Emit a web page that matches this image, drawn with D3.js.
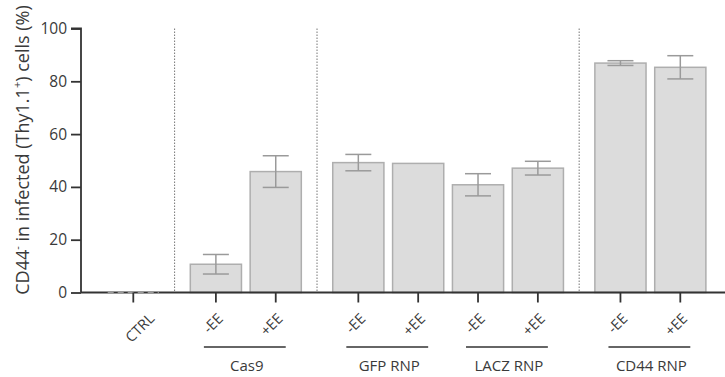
<!DOCTYPE html>
<html><head><meta charset="utf-8">
<script src="https://cdn.jsdelivr.net/npm/d3@7"></script>
<style>
html,body{margin:0;padding:0;background:#fff;}
svg{display:block;font-family:"Open Sans",sans-serif;}
</style></head>
<body><svg id="c" width="725" height="377"></svg>
<script>
const categories = ["CTRL","-EE","+EE","-EE","+EE","-EE","+EE","-EE","+EE"];
const groupOf    = ["", "Cas9","Cas9","GFP RNP","GFP RNP","LACZ RNP","LACZ RNP","CD44 RNP","CD44 RNP"];
const groupNames = ["Cas9","GFP RNP","LACZ RNP","CD44 RNP"];
const means      = [0, 10.7, 45.8, 49.2, 48.9, 40.8, 47.1, 86.9, 85.3];
const errors     = [0, 3.7, 6.0, 3.1, 0, 4.2, 2.6, 0.9, 4.4];
const dividersAfter = [0, 2, 6];
const yTicks = [0, 20, 40, 60, 80, 100];

const svg = d3.select("#c");
const axisX0 = 81, plotRight = 725;
const yTop = 28.5, yBottom = 292.5;
const gapFrac = 0.38;
const textCol = "#3a3a3a";

let pos = [], p = 0;
categories.forEach((c,i)=>{ pos.push(p); p += 1 + (dividersAfter.includes(i) ? gapFrac : 0); });
const x = d3.scaleLinear().domain([0, pos[pos.length-1]]).range([133.3, 680.3]);
const step = x(1) - x(0);
const barW = step * 0.855;
const y = d3.scaleLinear().domain([0,100]).range([yBottom, yTop]);

const data = categories.map((c,i)=>({c, g:groupOf[i], m:means[i], e:errors[i], cx:x(pos[i])}));

dividersAfter.forEach(i=>{
  const xm = (x(pos[i]) + x(pos[i+1]))/2;
  svg.append("line").attr("x1",xm).attr("x2",xm).attr("y1",y(100)).attr("y2",y(0))
    .attr("stroke","#777").attr("stroke-width",1).attr("stroke-dasharray","1.5,1.5");
});

svg.append("g").selectAll("rect").data(data).join("rect")
  .attr("x",d=>d.cx-barW/2).attr("width",barW)
  .attr("y",d=>y(d.m)).attr("height",d=>y(0)-y(d.m))
  .attr("fill","#dcdcdc").attr("stroke","#aeaeae").attr("stroke-width",1.5);

const eb = svg.append("g").attr("stroke","#9a9a9a").attr("stroke-width",1.5).attr("fill","none");
data.filter(d=>d.e>0).forEach(d=>{
  eb.append("line").attr("x1",d.cx).attr("x2",d.cx).attr("y1",y(d.m+d.e)).attr("y2",y(d.m-d.e));
  [d.m+d.e, d.m-d.e].forEach(v=>eb.append("line").attr("x1",d.cx-13).attr("x2",d.cx+13).attr("y1",y(v)).attr("y2",y(v)));
});

const yAxis = d3.axisLeft(y).tickValues(yTicks).tickSize(10).tickPadding(4);
const gy = svg.append("g").attr("transform",`translate(${axisX0},0)`).call(yAxis);
gy.select(".domain").attr("stroke","#333").attr("stroke-width",1.8).attr("d",`M-10,${y(100)}H0V${y(0)}`);
gy.selectAll(".tick line").attr("stroke","#333").attr("stroke-width",1.8);
gy.selectAll(".tick text").attr("font-size",15.5).attr("fill",textCol).attr("font-family","Open Sans");

svg.append("line").attr("x1",axisX0).attr("x2",plotRight).attr("y1",y(0)).attr("y2",y(0))
  .attr("stroke","#333").attr("stroke-width",1.8);
data.filter(d=>d.m===0).forEach(d=>{
  svg.append("line").attr("x1",d.cx-barW/2).attr("x2",d.cx+barW/2).attr("y1",y(0)).attr("y2",y(0))
    .attr("stroke","#9a9a9a").attr("stroke-width",1.8).attr("stroke-dasharray","6,4");
});
svg.append("g").selectAll("line").data(data).join("line")
  .attr("x1",d=>d.cx).attr("x2",d=>d.cx).attr("y1",y(0)).attr("y2",y(0)+10)
  .attr("stroke","#333").attr("stroke-width",1.8);
svg.append("g").selectAll("text").data(data).join("text")
  .attr("transform",d=>`translate(${d.cx + (d.g==="" ? 22 : 8)},${y(0)+27}) rotate(-45)`)
  .attr("text-anchor","end").attr("font-size",14.5).attr("fill",textCol)
  .text(d=>d.c);

groupNames.forEach(g=>{
  const idx = data.map((d,i)=>d.g===g?i:-1).filter(i=>i>=0);
  const x1 = data[idx[0]].cx - 12, x2 = data[idx[idx.length-1]].cx + 10;
  svg.append("line").attr("x1",x1).attr("x2",x2).attr("y1",347).attr("y2",347)
    .attr("stroke","#333").attr("stroke-width",1.5);
  svg.append("text").attr("x",(x1+x2)/2+2).attr("y",371).attr("text-anchor","middle")
    .attr("font-size",15).attr("fill",textCol).text(g);
});

const yl = svg.append("text").attr("transform",`translate(29,150) rotate(-90)`)
  .attr("text-anchor","middle").attr("font-size",18).attr("fill",textCol);
yl.append("tspan").text("CD44");
yl.append("tspan").attr("font-size",11).attr("dy",-8).text("-");
yl.append("tspan").attr("dy",8).text(" in infected (Thy1.1");
yl.append("tspan").attr("font-size",11).attr("dy",-8).text("+");
yl.append("tspan").attr("dy",8).text(") cells (%)");
</script></body></html>
